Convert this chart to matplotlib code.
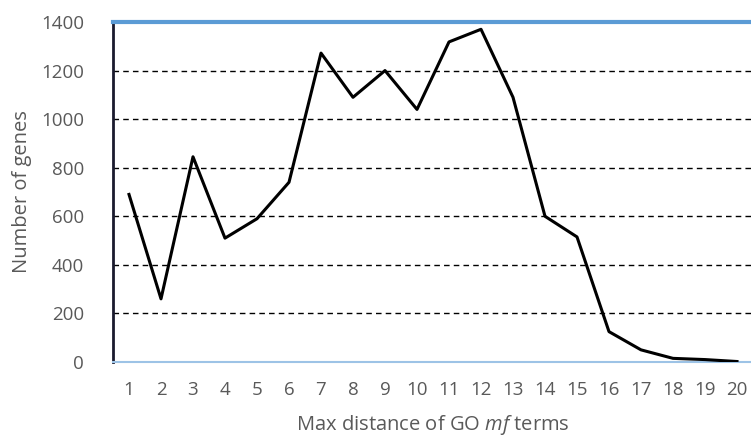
import matplotlib.pyplot as plt
import numpy as np

plt.rcParams['font.family'] = ['Open Sans', 'DejaVu Sans']
plt.rcParams['mathtext.fontset'] = 'custom'
plt.rcParams['mathtext.it'] = 'Open Sans:italic'
plt.rcParams['mathtext.rm'] = 'Open Sans'

# данные
distances = list(range(1, 21))
genes = [690, 260, 845, 510, 590, 740, 1272, 1090, 1200, 1040,
         1318, 1370, 1090, 600, 515, 125, 50, 15, 10, 2]
yticks = [0, 200, 400, 600, 800, 1000, 1200, 1400]

fig = plt.figure(figsize=(7.51, 4.43), dpi=100)
ax = fig.add_axes([113 / 751, 1 - 362 / 443, 640 / 751, 340 / 443])

ax.plot(distances, genes, color='black', linewidth=2.2, zorder=3)

ax.set_xlim(0.5, 20.5)
ax.set_ylim(0, 1400)
ax.set_xticks(distances)
ax.set_yticks(yticks)
for v in yticks[1:-1]:
    ax.axhline(v, color='black', linestyle=(0, (4, 3)), linewidth=1, zorder=1)

ax.tick_params(axis='both', length=0, labelsize=13.5, labelcolor='#595959')
ax.tick_params(axis='x', pad=14)
ax.tick_params(axis='y', pad=21)

ax.spines['right'].set_visible(False)
ax.spines['left'].set_color('#1a1a2e')
ax.spines['left'].set_linewidth(2)
ax.spines['top'].set_color('#5B9BD5')
ax.spines['top'].set_linewidth(3)
ax.spines['bottom'].set_color('#9DC3E6')
ax.spines['bottom'].set_linewidth(1.5)

ax.set_ylabel('Number of genes', fontsize=14.5, color='#595959', labelpad=6)
ax.set_xlabel(r'Max distance of GO $\mathit{mf}$ terms', fontsize=14.5, color='#595959', labelpad=10)

plt.savefig('out.png', dpi=100)
